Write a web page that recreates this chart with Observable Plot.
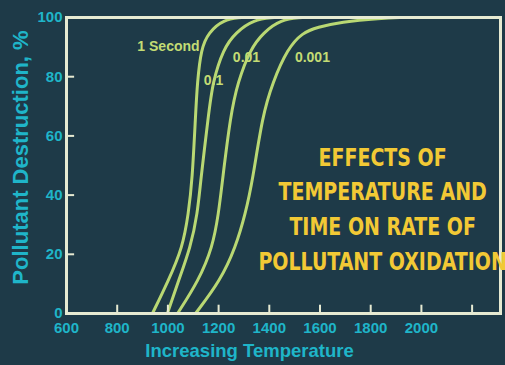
<!DOCTYPE html>
<html>
<head>
<meta charset="utf-8">
<script src="https://cdn.jsdelivr.net/npm/d3@7"></script>
<script src="https://cdn.jsdelivr.net/npm/@observablehq/plot@0.6"></script>
<style>
  html, body { margin: 0; padding: 0; background: #1e3a48; overflow: hidden; }
  #chart svg { display: block; }
</style>
</head>
<body>
<div id="chart"></div>
<script>
// ---- data ----
const seriesNames = ["1 Second", "0.1", "0.01", "0.001"];
const temp1s   = [939, 1002, 1058, 1081, 1096, 1109, 1116, 1131, 1160, 1219, 1290];
const pct1s    = [0, 11.1, 22.3, 33.8, 44.9, 66.9, 78, 89.5, 94.9, 99.3, 100];
const temp01   = [998, 1042, 1089, 1117, 1129, 1160, 1176, 1219, 1267, 1338, 1420];
const pct01    = [0, 11.1, 22.3, 33.8, 44.9, 66.9, 78, 89.5, 94.9, 99.3, 100];
const temp001  = [1038, 1121, 1176, 1200, 1215, 1247, 1275, 1326, 1377, 1444, 1530];
const pct001   = [0, 11.1, 22.3, 33.8, 44.9, 66.9, 78, 89.5, 94.9, 99.3, 100];
const temp0001 = [1109, 1207, 1267, 1306, 1334, 1373, 1413, 1472, 1531, 1590, 1681, 1839, 1930];
const pct0001  = [0, 11.1, 22.3, 33.8, 44.9, 66.9, 78, 89.5, 94.9, 96.7, 98.5, 99.8, 100];

const xTickLabels = [600, 800, 1000, 1200, 1400, 1600, 1800, 2000];
const xTickMarks = [800, 1000, 1200, 1400, 1600, 1800, 2000, 2200];
const yTickLabels = [0, 20, 40, 60, 80, 100];
const yTickMarks = [20, 40, 60, 80];

// curve label anchors (data coordinates)
const labelTemps = [1125, 1180, 1310, 1570];
const labelPcts = [90.2, 78.7, 86.5, 86.5];

const titleLines = ["EFFECTS OF", "TEMPERATURE AND", "TIME ON RATE OF", "POLLUTANT OXIDATION"];
const xTitle = "Increasing Temperature";
const yTitle = "Pollutant Destruction, %";

// ---- build table ----
const seriesT = [temp1s, temp01, temp001, temp0001];
const seriesP = [pct1s, pct01, pct001, pct0001];
const rows = [];
seriesNames.forEach((name, i) => {
  seriesT[i].forEach((t, j) => rows.push({series: name, temp: t, pct: seriesP[i][j]}));
});
const labels = seriesNames.map((name, i) => ({name, temp: labelTemps[i], pct: labelPcts[i]}));

const bg = "#1e3a48";
const cream = "#e6ead2";
const green = "#b9d873";
const labelGreen = "#c3dc74";
const cyan = "#1fb5c9";
const yellow = "#f2c935";
const sans = "'Liberation Sans', Arial, sans-serif";
const narrow = "'DejaVu Sans Condensed', 'DejaVu Sans', sans-serif";
const labelStyle = {x: "temp", y: "pct", text: "name", fill: labelGreen, fontSize: 14, fontWeight: "bold", fontFamily: sans};

const chart = Plot.plot({
  width: 505,
  height: 365,
  marginLeft: 66,
  marginRight: 5,
  marginTop: 17,
  marginBottom: 52,
  style: {background: bg, overflow: "hidden"},
  x: {domain: [600, 2312]},
  y: {domain: [0, 100]},
  marks: [
    Plot.line(rows, {x: "temp", y: "pct", z: "series", stroke: green, strokeWidth: 3, curve: "basis"}),
    Plot.ruleX(xTickMarks, {x: d => d, y1: 0, y2: 2.8, stroke: cream, strokeWidth: 2}),
    Plot.ruleY(yTickMarks, {y: d => d, x1: 600, x2: 632, stroke: cream, strokeWidth: 2}),
    Plot.frame({stroke: cream, strokeWidth: 3}),
    Plot.axisX(xTickLabels, {tickSize: 0, tickPadding: 9, tickFormat: d => String(d), label: null, fill: cyan, fontSize: 15, fontWeight: "bold", fontFamily: sans}),
    Plot.axisY(yTickLabels, {tickSize: 0, tickPadding: 4, tickFormat: d => String(d), label: null, fill: cyan, fontSize: 15, fontWeight: "bold", fontFamily: sans}),
    Plot.text([xTitle], {x: 1322, frameAnchor: "bottom", dy: 43, fill: cyan, fontSize: 18.5, fontWeight: "bold", fontFamily: sans}),
    Plot.text([yTitle], {y: 52.7, frameAnchor: "left", textAnchor: "middle", dx: -46, rotate: -90, fill: cyan, fontSize: 22, fontWeight: "bold", fontFamily: sans}),
    Plot.text(labels.slice(0, 1), {...labelStyle, textAnchor: "end"}),
    Plot.text(labels.slice(1), {...labelStyle, textAnchor: "middle"}),
    Plot.text([titleLines.join("\n")], {x: 1847, y: 36.1, fill: yellow, fontSize: 24, lineHeight: 1.446, fontWeight: "bold", fontFamily: narrow})
  ]
});
document.getElementById("chart").appendChild(chart);

// condense the title block horizontally (narrow poster lettering)
d3.select(chart).selectAll("text").each(function() {
  if (this.textContent.indexOf("EFFECTS") >= 0) {
    const t = this.getAttribute("transform") || "";
    this.setAttribute("transform", t + " scale(0.88,1)");
  }
});
</script>
</body>
</html>
